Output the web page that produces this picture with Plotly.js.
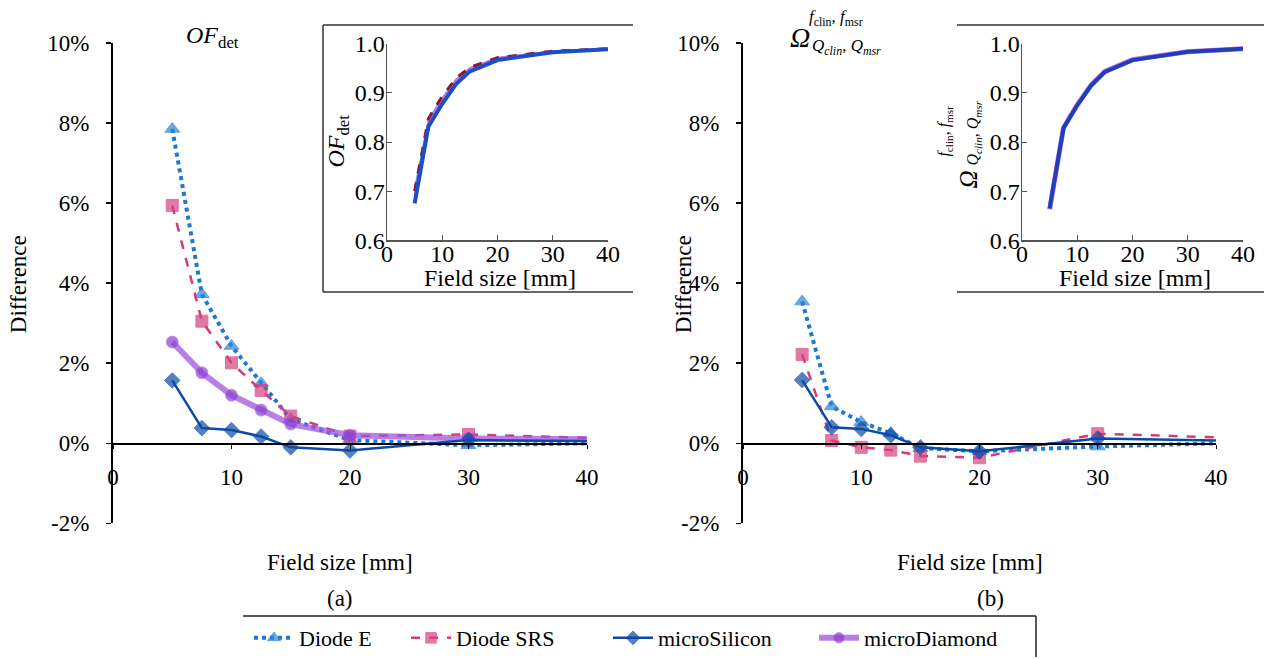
<!DOCTYPE html>
<html>
<head>
<meta charset="utf-8">
<script src="https://cdn.plot.ly/plotly-3.0.1.min.js"></script>
<style>html,body{margin:0;padding:0;background:#fff;}#chart{width:1264px;height:659px;}</style>
</head>
<body>
<div id="chart"></div>
<script>
// ---------- data ----------
const fieldSize = [5, 7.5, 10, 12.5, 15, 20, 30, 40];
const seriesNames = ["Diode E", "Diode SRS", "microSilicon", "microDiamond"];

// (a) difference in OF_det [%]
const diffA_DiodeE       = [7.85, 3.72, 2.43, 1.50, 0.60, 0.08, -0.05, 0.00];
const diffA_DiodeSRS     = [5.94, 3.05, 2.01, 1.32, 0.68, 0.18, 0.22, 0.14];
const diffA_microSilicon = [1.57, 0.38, 0.33, 0.17, -0.10, -0.18, 0.08, 0.06];
const diffA_microDiamond = [2.53, 1.76, 1.20, 0.83, 0.48, 0.20, 0.12, 0.10];

// (b) difference in correction factor [%]
const diffB_DiodeE       = [3.54, 0.92, 0.53, 0.25, -0.12, -0.20, -0.08, 0.00];
const diffB_DiodeSRS     = [2.22, 0.07, -0.10, -0.17, -0.32, -0.36, 0.24, 0.15];
const diffB_microSilicon = [1.58, 0.40, 0.36, 0.20, -0.10, -0.20, 0.12, 0.07];

// inset (a): OF_det
const ofDet_DiodeE       = [0.705, 0.846, 0.890, 0.928, 0.951, 0.971, 0.985, 0.990];
const ofDet_DiodeSRS     = [0.700, 0.848, 0.893, 0.930, 0.952, 0.972, 0.985, 0.990];
const ofDet_microDiamond = [0.690, 0.842, 0.888, 0.926, 0.950, 0.972, 0.985, 0.990];
const ofDet_microSilicon = [0.675, 0.832, 0.878, 0.918, 0.944, 0.967, 0.983, 0.989];

// inset (b): correction factor
const omega_microDiamond = [0.663, 0.829, 0.876, 0.916, 0.944, 0.968, 0.984, 0.990];
const omega_microSilicon = [0.665, 0.828, 0.875, 0.915, 0.943, 0.967, 0.984, 0.990];

const yTickVals = [-2, 0, 2, 4, 6, 8, 10];
const yTickText = ["-2%", "0%", "2%", "4%", "6%", "8%", "10%"];
const xTickVals = [0, 10, 20, 30, 40];
const insetYTicks = [0.6, 0.7, 0.8, 0.9, 1.0];
const insetYText = ["0.6", "0.7", "0.8", "0.9", "1.0"];

// ---------- helpers ----------
const W = 1264, H = 659;
const px = v => v / W;
const py = v => 1 - v / H;
const FONT = "Liberation Serif";

const cE = "#1f78cf", cSRS = "#d23c7c", cSi = "#0b4aa8";
const msz = n => fieldSize.map((_, i) => i === fieldSize.length - 1 ? 0 : n);

const traces = [];
function mainSet(xa, ya, e, srs, si, dia, show) {
  traces.push({x: fieldSize, y: e, xaxis: xa, yaxis: ya, name: seriesNames[0], mode: "lines+markers",
    line: {color: cE, width: 4, dash: "dot"}, marker: {symbol: "triangle-up", size: msz(13), color: "#2a86dc"},
    showlegend: show, legend: "legend"});
  traces.push({x: fieldSize, y: srs, xaxis: xa, yaxis: ya, name: seriesNames[1], mode: "lines+markers",
    line: {color: cSRS, width: 2.5, dash: "dash"}, marker: {symbol: "square", size: msz(12), color: "#d6417f"},
    showlegend: show, legend: "legend2"});
  if (dia) traces.push({x: fieldSize, y: dia, xaxis: xa, yaxis: ya, name: seriesNames[3], mode: "lines+markers",
    line: {color: "rgba(160,84,222,0.75)", width: 6}, marker: {symbol: "circle", size: msz(12), color: "#8a3fd6"},
    showlegend: show, legend: "legend4"});
  traces.push({x: fieldSize, y: si, xaxis: xa, yaxis: ya, name: seriesNames[2], mode: "lines+markers",
    line: {color: cSi, width: 2.5}, marker: {symbol: "diamond", size: msz(12), color: "#0d4aa6"},
    showlegend: show, legend: "legend3"});
}
mainSet("x", "y", diffA_DiodeE, diffA_DiodeSRS, diffA_microSilicon, diffA_microDiamond, true);
mainSet("x3", "y3", diffB_DiodeE, diffB_DiodeSRS, diffB_microSilicon, null, false);

// insets
traces.push({x: fieldSize, y: ofDet_DiodeE, xaxis: "x2", yaxis: "y2", mode: "lines", line: {color: "#6a8fe0", width: 1.5}, showlegend: false});
traces.push({x: fieldSize, y: ofDet_microDiamond, xaxis: "x2", yaxis: "y2", mode: "lines", line: {color: "#c27ae8", width: 2}, showlegend: false});
traces.push({x: fieldSize, y: ofDet_DiodeSRS, xaxis: "x2", yaxis: "y2", mode: "lines", line: {color: "#8b1a2e", width: 3, dash: "dash"}, showlegend: false});
traces.push({x: fieldSize, y: ofDet_microSilicon, xaxis: "x2", yaxis: "y2", mode: "lines", line: {color: "#1c4fc6", width: 4}, showlegend: false});
traces.push({x: fieldSize, y: omega_microDiamond, xaxis: "x4", yaxis: "y4", mode: "lines", line: {color: "#c070e8", width: 5}, showlegend: false});
traces.push({x: fieldSize, y: omega_microSilicon, xaxis: "x4", yaxis: "y4", mode: "lines", line: {color: "#1f3fb8", width: 4}, showlegend: false});

const tickFont = {family: FONT, size: 23, color: "#000"};
const insetFont = {family: FONT, size: 24, color: "#000"};
const mainY = () => ({domain: [py(525), py(43)], range: [-2, 10], tickmode: "array", tickvals: yTickVals, ticktext: yTickText,
  showline: true, linecolor: "#000", linewidth: 2, ticks: "outside", ticklen: 5, tickcolor: "#000", tickwidth: 1.5,
  showgrid: false, zeroline: false, tickfont: tickFont, ticklabelstandoff: 12, fixedrange: true});
const mainX = (dom) => ({domain: dom, range: [0, 40], anchor: "free", position: py(445.5),
  tickmode: "array", tickvals: xTickVals, showline: true, linecolor: "#000", linewidth: 2, ticks: "outside", ticklen: 4,
  tickcolor: "#000", showgrid: false, zeroline: false, tickfont: tickFont, ticklabelstandoff: 8});
const insetX = (dom, ya) => ({domain: dom, range: [0, 40], anchor: ya, tickmode: "array", tickvals: xTickVals,
  showline: true, linecolor: "#555", linewidth: 1.5, ticks: "inside", ticklen: 5, tickcolor: "#555",
  showgrid: false, zeroline: false, tickfont: insetFont, ticklabelstandoff: -9});
const insetY = (xa) => ({domain: [py(241), py(44)], range: [0.6, 1.0], anchor: xa, tickmode: "array", tickvals: insetYTicks,
  ticktext: insetYText, showline: true, linecolor: "#555", linewidth: 1.5, ticks: "inside", ticklen: 5,
  tickcolor: "#555", showgrid: false, zeroline: false, tickfont: insetFont, ticklabelstandoff: -4});

const ann = (x, y, text, size, extra) => Object.assign({xref: "paper", yref: "paper", x: px(x), y: py(y), text: text,
  showarrow: false, xanchor: "center", yanchor: "middle", font: {family: FONT, size: size, color: "#000"}}, extra || {});

const annotations = [
  ann(18, 285, "Difference", 23, {textangle: -90}),
  ann(683, 285, "Difference", 23, {textangle: -90}),
  ann(340, 564, "Field size [mm]", 23),
  ann(970, 564, "Field size [mm]", 23),
  ann(340, 600, "(a)", 23),
  ann(990, 600, "(b)", 23),
  ann(212, 37, "<i>OF</i><sub>det</sub>", 24),
  ann(800, 38, "<i>Ω</i>", 28),
  ann(836, 18, "<i>f</i><sub>clin</sub>, <i>f</i><sub>msr</sub>", 17),
  ann(846, 47, "<i>Q<sub>clin</sub></i>, <i>Q<sub>msr</sub></i>", 17),
  ann(500, 279, "Field size [mm]", 24),
  ann(1135, 279, "Field size [mm]", 24),
  ann(338, 142, "<i>OF</i><sub>det</sub>", 24, {textangle: -90}),
  ann(968, 180, "<i>Ω</i>", 25, {textangle: -90}),
  ann(945, 132, "<i>f</i><sub>clin</sub>, <i>f</i><sub>msr</sub>", 16, {textangle: -90}),
  ann(974, 134, "<i>Q<sub>clin</sub></i>, <i>Q<sub>msr</sub></i>", 16, {textangle: -90})
];

const ln = (x0, y0, x1, y1, c, w) => ({type: "line", xref: "paper", yref: "paper", x0: px(x0), y0: py(y0), x1: px(x1), y1: py(y1),
  line: {color: c || "#333", width: w || 1.5}});
const shapes = [
  ln(323, 25, 633, 25), ln(323, 293, 633, 293), ln(323, 25, 323, 293),
  ln(957, 25, 1264, 25), ln(957, 293, 1264, 293),
  ln(243, 618, 1036, 618, "#222", 1.5), ln(1036, 618, 1036, 659, "#222", 1.5)
];

const legendBase = (x) => ({x: px(x), y: py(640), xanchor: "left", yanchor: "middle", orientation: "h",
  bgcolor: "rgba(0,0,0,0)", font: {family: FONT, size: 22, color: "#000"}, itemwidth: 40});

const layout = {
  width: W, height: H, margin: {l: 0, r: 0, t: 0, b: 0}, paper_bgcolor: "#fff", plot_bgcolor: "rgba(0,0,0,0)",
  font: {family: FONT, color: "#000"},
  showlegend: true, hovermode: false,
  xaxis: mainX([px(113), px(587)]), yaxis: Object.assign(mainY(), {anchor: "x"}),
  xaxis3: mainX([px(743), px(1216)]), yaxis3: Object.assign(mainY(), {anchor: "x3"}),
  xaxis2: insetX([px(387), px(608)], "y2"), yaxis2: insetY("x2"),
  xaxis4: insetX([px(1022), px(1243)], "y4"), yaxis4: insetY("x4"),
  legend: legendBase(249), legend2: legendBase(406), legend3: legendBase(608), legend4: legendBase(814),
  annotations: annotations, shapes: shapes
};

Plotly.newPlot("chart", traces, layout, {staticPlot: true, displayModeBar: false});
</script>
</body>
</html>
